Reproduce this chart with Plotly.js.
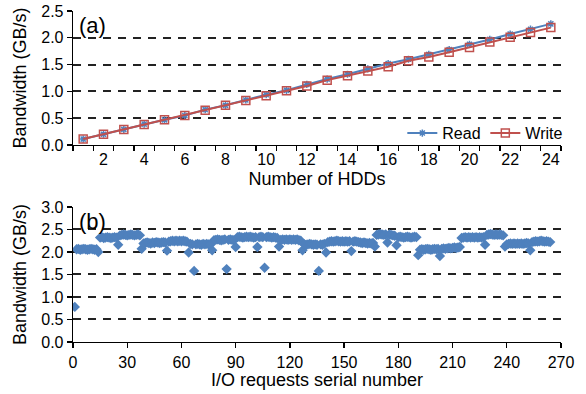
<!DOCTYPE html>
<html>
<head>
<meta charset="utf-8">
<script src="https://cdn.plot.ly/plotly-3.0.1.min.js"></script>
<style>html,body{margin:0;padding:0;background:#fff;}#chart{width:586px;height:394px;}</style>
</head>
<body>
<div id="chart"></div>
<script>
// ---- Panel (a): bandwidth vs number of HDDs ----
const hdds = [1,2,3,4,5,6,7,8,9,10,11,12,13,14,15,16,17,18,19,20,21,22,23,24];
const readBW = [0.11,0.20,0.29,0.39,0.47,0.55,0.66,0.74,0.84,0.94,1.02,1.13,1.23,1.32,1.42,1.52,1.60,1.69,1.78,1.88,1.97,2.07,2.16,2.26];
const writeBW = [0.11,0.20,0.29,0.38,0.47,0.55,0.65,0.74,0.83,0.92,1.01,1.10,1.21,1.29,1.38,1.46,1.57,1.64,1.73,1.82,1.92,2.01,2.10,2.19];
const hddTickVals = [2,4,6,8,10,12,14,16,18,20,22,24];

// ---- Panel (b): bandwidth per I/O request ----
const requestBW = [
  0.78,
  2.06,2.07,2.05,2.06,2.07,2.06,2.05,2.06,2.07,2.06,2.05,2.06,
  2.00,
  2.32,2.33,2.31,2.32,2.33,2.32,2.31,2.32,2.33,2.32,
  2.16,
  2.37,2.38,2.39,2.38,2.37,2.38,2.39,2.38,2.37,2.38,2.39,2.37,
  2.07,
  2.19,2.20,2.21,2.20,2.19,2.21,2.20,2.22,2.21,2.20,2.21,2.22,2.21,
  2.03,
  2.23,2.24,2.25,2.24,2.25,2.24,2.25,2.24,2.25,2.24,2.23,
  1.99,
  2.18,2.17,
  1.58,
  2.17,2.18,2.17,2.16,2.18,2.17,2.18,2.17,2.16,
  2.04,
  2.26,2.27,2.28,2.27,2.26,2.27,2.28,
  1.62,
  2.27,2.28,2.27,2.26,
  2.11,
  2.33,2.34,2.33,2.32,2.33,2.34,2.33,2.34,2.33,2.32,2.33,
  2.11,
  2.33,2.34,2.33,
  1.65,
  2.33,2.34,2.33,2.32,2.33,2.32,2.31,
  2.12,
  2.27,2.28,2.27,2.28,2.27,2.28,2.27,2.28,2.27,2.28,2.26,2.25,
  2.04,
  2.17,2.16,2.17,2.18,2.17,2.16,2.17,2.16,
  1.58,
  2.17,2.16,2.18,
  1.99,
  2.22,2.23,2.24,2.23,2.24,2.25,2.24,2.23,2.24,2.23,2.24,2.23,2.24,
  2.02,
  2.23,2.24,2.23,2.22,2.21,2.20,2.21,2.20,2.19,2.20,2.19,2.20,
  2.12,
  2.38,2.39,2.40,2.39,2.38,2.39,
  2.21,
  2.39,2.38,2.37,2.36,
  2.15,
  2.33,2.34,2.33,2.32,2.33,2.34,2.33,2.32,2.33,2.34,2.33,
  1.93,
  2.05,2.06,2.05,2.06,2.07,2.06,2.05,2.06,2.07,2.06,2.07,
  1.91,
  2.07,2.08,2.07,2.08,2.09,2.08,2.09,2.10,2.09,2.10,2.11,
  2.31,2.32,2.33,2.32,2.33,2.32,2.33,2.32,2.33,2.32,2.33,2.32,2.33,
  2.16,
  2.38,2.39,2.40,2.39,2.38,2.39,2.38,2.39,2.38,2.37,
  2.12,
  2.17,2.18,2.19,2.18,2.19,2.18,2.19,2.18,2.19,2.18,2.19,2.20,2.19,
  2.04,
  2.22,2.23,2.24,2.23,2.24,2.25,2.24,2.23,2.24,2.23,2.22
];
const requestSerial = requestBW.map((v, i) => i + 1);

const blue = '#4F81BD';
const red = '#C0504D';
const font = 'Liberation Sans, Arial, sans-serif';
const tickFont = {family: font, size: 16, color: '#000'};
const titleFont = {family: font, size: 18, color: '#000'};

const traces = [
  {x: hdds, y: readBW, name: 'Read', type: 'scatter', mode: 'lines+markers',
   line: {color: blue, width: 2}, marker: {symbol: 'asterisk-open', size: 6, color: blue, line: {color: blue, width: 1.5}},
   xaxis: 'x', yaxis: 'y'},
  {x: hdds, y: writeBW, name: 'Write', type: 'scatter', mode: 'lines+markers',
   line: {color: red, width: 2}, marker: {symbol: 'square-open', size: 8, color: red, line: {color: red, width: 1.5}},
   xaxis: 'x', yaxis: 'y'},
  {x: requestSerial, y: requestBW, name: 'requests', type: 'scatter', mode: 'markers',
   marker: {symbol: 'diamond', size: 8, color: blue}, showlegend: false,
   xaxis: 'x2', yaxis: 'y2'}
];

const gridCommon = {showgrid: true, gridcolor: '#222', gridwidth: 2, griddash: '8px,7px',
  zeroline: false, showline: true, linecolor: '#000', linewidth: 1.3,
  ticks: 'outside', ticklen: 5, tickcolor: '#000', tickwidth: 1.3,
  tickfont: tickFont};

const layout = {
  width: 586, height: 394,
  margin: {l: 73, r: 25, t: 11, b: 52},
  paper_bgcolor: '#fff', plot_bgcolor: '#fff',
  font: {family: font, color: '#000'},
  showlegend: true,
  legend: {orientation: 'h', x: 1.015, xanchor: 'right', y: 0.631, yanchor: 'middle',
           bgcolor: 'rgba(0,0,0,0)', font: {family: font, size: 16, color: '#000'},
           itemwidth: 30, entrywidth: 38, entrywidthmode: 'pixels', tracegroupgap: 0},
  xaxis: {domain: [0, 1], anchor: 'y', range: [0.5, 24.5], showgrid: false, zeroline: false,
          showline: true, linecolor: '#000', linewidth: 1.3,
          tickmode: 'array', tickvals: hddTickVals, ticktext: hddTickVals.map(String), ticks: '',
          minor: {tick0: 0.5, dtick: 1, ticks: 'outside', ticklen: 5, tickcolor: '#000', tickwidth: 1.3, showgrid: false},
          tickfont: tickFont,
          title: {text: 'Number of HDDs', font: titleFont, standoff: 5}},
  yaxis: Object.assign({}, gridCommon, {domain: [0.5952, 1], anchor: 'x', range: [0, 2.5], dtick: 0.5, tickformat: '.1f',
          title: {text: 'Bandwidth (GB/s)', font: titleFont, standoff: 10}}),
  xaxis2: {domain: [0, 1], anchor: 'y2', range: [0, 270], dtick: 30, tick0: 0, showgrid: false, zeroline: false,
          showline: true, linecolor: '#000', linewidth: 1.3,
          ticks: 'outside', ticklen: 5, tickcolor: '#000', tickwidth: 1.3,
          tickfont: tickFont,
          title: {text: 'I/O requests serial number', font: titleFont, standoff: 4}},
  yaxis2: Object.assign({}, gridCommon, {domain: [0, 0.4079], anchor: 'x2', range: [0, 3.0], dtick: 0.5, tickformat: '.1f',
          title: {text: 'Bandwidth (GB/s)', font: titleFont, standoff: 10}}),
  annotations: [
    {text: '(a)', xref: 'paper', yref: 'paper', x: 0.008, y: 1.0, xanchor: 'left', yanchor: 'top', showarrow: false,
     font: {family: font, size: 22, color: '#000'}},
    {text: '(b)', xref: 'paper', yref: 'paper', x: 0.008, y: 0.4079, xanchor: 'left', yanchor: 'top', showarrow: false,
     font: {family: font, size: 22, color: '#000'}}
  ]
};

Plotly.newPlot('chart', traces, layout, {displayModeBar: false, staticPlot: true});
</script>
</body>
</html>
